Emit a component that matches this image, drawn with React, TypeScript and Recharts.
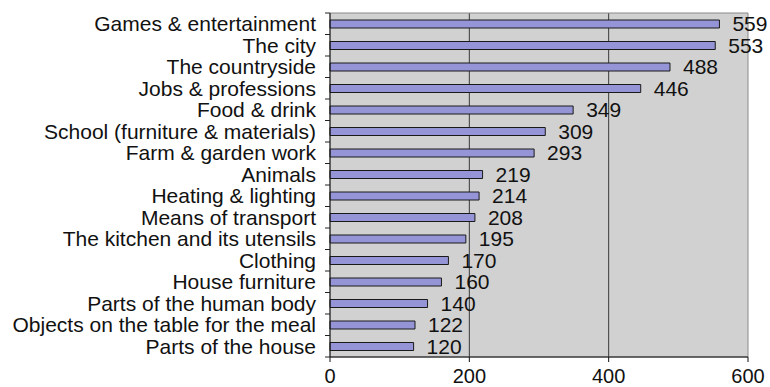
import {
  BarChart,
  Bar,
  XAxis,
  YAxis,
  CartesianGrid,
  LabelList,
  ReferenceArea,
} from 'recharts'

const categories = [
  'Games & entertainment',
  'The city',
  'The countryside',
  'Jobs & professions',
  'Food & drink',
  'School (furniture & materials)',
  'Farm & garden work',
  'Animals',
  'Heating & lighting',
  'Means of transport',
  'The kitchen and its utensils',
  'Clothing',
  'House furniture',
  'Parts of the human body',
  'Objects on the table for the meal',
  'Parts of the house',
]

const counts = [559, 553, 488, 446, 349, 309, 293, 219, 214, 208, 195, 170, 160, 140, 122, 120]

const xTicks = [0, 200, 400, 600]

const data = categories.map((name, i) => ({ name, value: counts[i] }))

const WIDTH = 770
const HEIGHT = 387
const MARGIN = { top: 13, right: 22, bottom: 0, left: 0 }
const X_AXIS_HEIGHT = 30
const FONT = '"Liberation Sans", Arial, sans-serif'
const TEXT = '#111'

// category ticks sit between the bars, so draw them at the band edges
const plotHeight = HEIGHT - MARGIN.top - MARGIN.bottom - X_AXIS_HEIGHT
const band = plotHeight / categories.length

function CategoryTick(props: any) {
  const { x, y, payload, index } = props
  const lineX1 = x + 9
  const lineX2 = x + 14
  return (
    <g>
      <line x1={lineX1} x2={lineX2} y1={y - band / 2} y2={y - band / 2} stroke="#222" />
      {index === categories.length - 1 && (
        <line x1={lineX1} x2={lineX2} y1={y + band / 2} y2={y + band / 2} stroke="#222" />
      )}
      <text
        x={x}
        y={y}
        textAnchor="end"
        dominantBaseline="central"
        fill={TEXT}
        fontSize={21}
        fontFamily={FONT}
      >
        {payload.value}
      </text>
    </g>
  )
}

export default function App() {
  return (
    <div style={{ position: 'absolute', left: 0, top: 0, background: '#fff' }}>
      <BarChart
        width={WIDTH}
        height={HEIGHT}
        data={data}
        layout="vertical"
        margin={MARGIN}
        barCategoryGap={0}
      >
        <CartesianGrid
          horizontal={false}
          vertical
          fill="#d1d1d1"
          stroke="#3a3a3a"
          verticalValues={[200, 400]}
        />
        <ReferenceArea x1={0} x2={600} fill="none" stroke="#8a8a8a" strokeWidth={1} />
        <XAxis
          type="number"
          domain={[0, 600]}
          ticks={xTicks}
          height={X_AXIS_HEIGHT}
          tickSize={5}
          tickMargin={7}
          axisLine={{ stroke: '#111' }}
          tickLine={{ stroke: '#111' }}
          tick={{ fill: TEXT, fontSize: 20, fontFamily: FONT }}
        />
        <YAxis
          type="category"
          dataKey="name"
          width={330}
          tickSize={5}
          tickMargin={9}
          interval={0}
          axisLine={{ stroke: '#111' }}
          tickLine={false}
          tick={CategoryTick}
        />
        <Bar
          dataKey="value"
          barSize={8}
          fill="#9494d6"
          stroke="#1a1a1a"
          strokeWidth={1}
          isAnimationActive={false}
        >
          <LabelList
            dataKey="value"
            position="right"
            offset={13}
            fill={TEXT}
            fontSize={21}
            fontFamily={FONT}
          />
        </Bar>
      </BarChart>
    </div>
  )
}
